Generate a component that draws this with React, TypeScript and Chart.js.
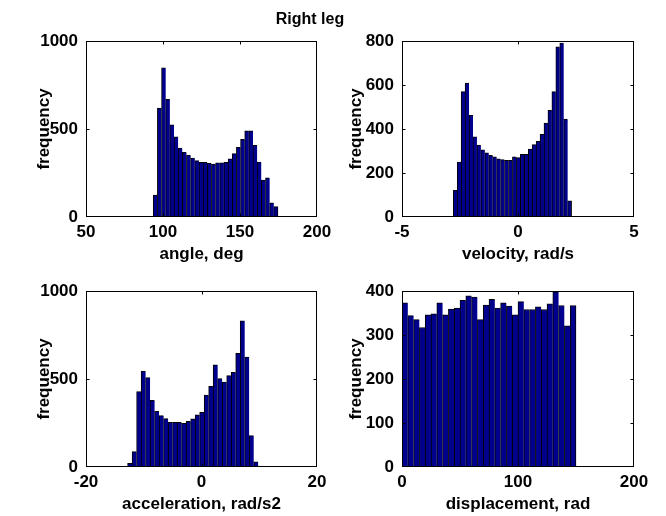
import React, { useEffect, useRef } from 'react';
import { Chart, registerables } from 'chart.js';

Chart.register(...registerables);

// ---------- data ----------
const figureTitle = 'Right leg';
const yLabel = 'frequency';

const angleCenters = [95.0, 97.7, 100.4, 103.1, 105.8, 108.5, 111.2, 113.9, 116.6, 119.3, 122.0, 124.7, 127.4, 130.1, 132.8, 135.5, 138.2, 140.9, 143.6, 146.3, 149.0, 151.7, 154.4, 157.1, 159.8, 162.5, 165.2, 167.9, 170.6, 173.3];
const angleCounts = [125, 619, 848, 669, 523, 455, 392, 367, 352, 335, 320, 311, 311, 305, 301, 308, 308, 311, 330, 360, 396, 441, 490, 490, 407, 312, 210, 223, 81, 59];
const angleXTicks = [50, 100, 150, 200];
const angleYTicks = [0, 500, 1000];

const velocityCenters = [-2.705, -2.535, -2.365, -2.195, -2.025, -1.855, -1.685, -1.515, -1.345, -1.175, -1.005, -0.835, -0.665, -0.495, -0.325, -0.155, 0.015, 0.185, 0.355, 0.525, 0.695, 0.865, 1.035, 1.205, 1.375, 1.545, 1.715, 1.885, 2.055, 2.225];
const velocityCounts = [121, 250, 570, 609, 462, 364, 327, 305, 292, 280, 274, 264, 261, 258, 258, 273, 270, 285, 285, 309, 329, 344, 376, 427, 485, 570, 773, 791, 445, 73];
const velocityXTicks = [-5, 0, 5];
const velocityYTicks = [0, 200, 400, 600, 800];

const accelCenters = [-12.41, -11.63, -10.85, -10.07, -9.29, -8.51, -7.73, -6.95, -6.17, -5.39, -4.61, -3.83, -3.05, -2.27, -1.49, -0.71, 0.07, 0.85, 1.63, 2.41, 3.19, 3.97, 4.75, 5.53, 6.31, 7.09, 7.87, 8.65, 9.43, 10.21];
const accelCounts = [21, 87, 428, 545, 508, 379, 316, 292, 275, 254, 254, 254, 248, 259, 273, 297, 311, 409, 458, 581, 502, 483, 519, 538, 646, 830, 625, 178, 30, 5];
const accelXTicks = [-20, 0, 20];
const accelYTicks = [0, 500, 1000];

const dispCenters = [2.5, 7.5, 12.5, 17.5, 22.5, 27.5, 32.5, 37.5, 42.5, 47.5, 52.5, 57.5, 62.5, 67.5, 72.5, 77.5, 82.5, 87.5, 92.5, 97.5, 102.5, 107.5, 112.5, 117.5, 122.5, 127.5, 132.5, 137.5, 142.5, 147.5];
const dispCounts = [373, 344, 335, 317, 346, 348, 373, 346, 359, 361, 379, 389, 386, 335, 368, 381, 361, 373, 366, 346, 376, 358, 358, 364, 358, 371, 398, 367, 321, 367];
const dispXTicks = [0, 100, 200];
const dispYTicks = [0, 100, 200, 300, 400];

// ---------- style / layout ----------
const FIG_W = 666;
const FIG_H = 516;
const FONT_FAMILY = "'Liberation Sans', Arial, Helvetica, sans-serif";
const LABEL_SIZE = 17;
const LINE_H = LABEL_SIZE * 1.2;
const BAR_FILL = '#00008C';
const X_AXIS_H = 48;

const panels = [
  { centers: angleCenters, counts: angleCounts, xTicks: angleXTicks, yTicks: angleYTicks, xLabel: 'angle, deg',
    area: { left: 86, top: 41, right: 317, bottom: 217 }, yTitleX: 44 },
  { centers: velocityCenters, counts: velocityCounts, xTicks: velocityXTicks, yTicks: velocityYTicks, xLabel: 'velocity, rad/s',
    area: { left: 402, top: 41, right: 634, bottom: 217 }, yTitleX: 356 },
  { centers: accelCenters, counts: accelCounts, xTicks: accelXTicks, yTicks: accelYTicks, xLabel: 'acceleration, rad/s2',
    area: { left: 86, top: 291, right: 317, bottom: 467 }, yTitleX: 44 },
  { centers: dispCenters, counts: dispCounts, xTicks: dispXTicks, yTicks: dispYTicks, xLabel: 'displacement, rad',
    area: { left: 402, top: 291, right: 634, bottom: 467 }, yTitleX: 356 },
];

const boxPlugin = {
  id: 'matlabBox',
  afterDraw(chart: any) {
    const { ctx, chartArea: a, scales } = chart;
    const x = scales.x;
    const y = scales.y;
    const L = Math.round(a.left) + 0.5;
    const R = Math.round(a.right) - 0.5;
    const T = Math.round(a.top) + 0.5;
    const B = Math.round(a.bottom) - 0.5;
    ctx.save();
    ctx.strokeStyle = '#000';
    ctx.lineWidth = 1;
    ctx.strokeRect(L, T, R - L, B - T);
    const tl = 3;
    ctx.beginPath();
    x.ticks.forEach((t: any) => {
      const px = Math.round(x.getPixelForValue(t.value)) + 0.5;
      if (px <= L + 1 || px >= R - 1) return;
      ctx.moveTo(px, B); ctx.lineTo(px, B - tl);
      ctx.moveTo(px, T); ctx.lineTo(px, T + tl);
    });
    y.ticks.forEach((t: any) => {
      const py = Math.round(y.getPixelForValue(t.value)) + 0.5;
      if (py <= T + 1 || py >= B - 1) return;
      ctx.moveTo(L, py); ctx.lineTo(L + tl, py);
      ctx.moveTo(R, py); ctx.lineTo(R - tl, py);
    });
    ctx.stroke();
    ctx.restore();
  },
};

const figTitlePlugin = {
  id: 'figTitle',
  afterDraw(chart: any) {
    const ctx = chart.ctx;
    ctx.save();
    ctx.fillStyle = '#000';
    ctx.font = `bold 16px ${FONT_FAMILY}`;
    ctx.textAlign = 'center';
    ctx.textBaseline = 'middle';
    ctx.fillText(figureTitle, 310, 20);
    ctx.restore();
  },
};

function Panel({ cfg, withTitle }: { cfg: any; withTitle: boolean }) {
  const ref = useRef<HTMLCanvasElement>(null);
  useEffect(() => {
    if (!ref.current) return;
    const a = cfg.area;
    const padLeft = cfg.yTitleX - LINE_H / 2;
    const yAxisW = a.left - padLeft;
    const font = { family: FONT_FAMILY, size: LABEL_SIZE, weight: 'bold' as const, lineHeight: 1.2 };
    const n = cfg.counts.length;
    const xs = cfg.xTicks;
    const ys = cfg.yTicks;
    const chart = new Chart(ref.current, {
      type: 'bar',
      data: {
        datasets: [
          {
            data: cfg.centers.map((c: number, i: number) => ({ x: c, y: cfg.counts[i] })),
            backgroundColor: BAR_FILL,
            borderColor: '#000',
            borderWidth: (c: any) => ({ left: 1, top: 1, right: c.dataIndex === n - 1 ? 1 : 0, bottom: 0 }),
            borderSkipped: false,
            barPercentage: 1,
            categoryPercentage: 1,
          } as any,
        ],
      },
      options: {
        responsive: false,
        animation: false,
        events: [],
        layout: {
          padding: {
            left: padLeft,
            top: a.top,
            right: FIG_W - a.right,
            bottom: FIG_H - a.bottom - X_AXIS_H,
          },
        },
        plugins: { legend: { display: false }, tooltip: { enabled: false } },
        scales: {
          x: {
            type: 'linear',
            min: xs[0],
            max: xs[xs.length - 1],
            offset: false,
            grid: { display: false, drawTicks: false, offset: false },
            border: { display: false },
            ticks: { color: '#000', font, padding: 5, maxRotation: 0, autoSkip: false, callback: (v: any) => String(v) },
            afterBuildTicks: (s: any) => { s.ticks = xs.map((v: number) => ({ value: v })); },
            afterFit: (s: any) => { s.height = X_AXIS_H; },
            title: { display: true, text: cfg.xLabel, color: '#000', font, padding: 0 },
          },
          y: {
            type: 'linear',
            min: ys[0],
            max: ys[ys.length - 1],
            grid: { display: false, drawTicks: false },
            border: { display: false },
            ticks: { color: '#000', font, padding: 8, autoSkip: false, callback: (v: any) => String(v) },
            afterBuildTicks: (s: any) => { s.ticks = ys.map((v: number) => ({ value: v })); },
            afterFit: (s: any) => { s.width = yAxisW; },
            title: { display: true, text: yLabel, color: '#000', font, padding: 0 },
          },
        },
      } as any,
      plugins: withTitle ? [boxPlugin, figTitlePlugin] : [boxPlugin],
    });
    return () => chart.destroy();
  }, []);
  return (
    <canvas
      ref={ref}
      width={FIG_W}
      height={FIG_H}
      style={{ position: 'absolute', left: 0, top: 0, width: FIG_W, height: FIG_H }}
    />
  );
}

export default function App() {
  return (
    <div style={{ position: 'absolute', left: 0, top: 0, width: FIG_W, height: FIG_H, background: '#fff' }}>
      {panels.map((p, i) => (
        <Panel key={i} cfg={p} withTitle={i === 0} />
      ))}
    </div>
  );
}
